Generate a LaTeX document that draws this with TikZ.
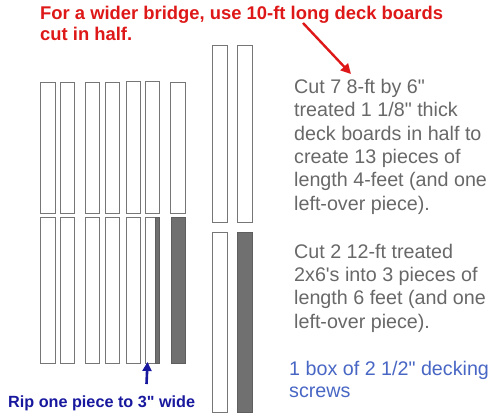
\documentclass[tikz,border=0pt]{standalone}
\usepackage{fontspec}
\setmainfont{Liberation Sans}[Ligatures=TeXOff]
\usetikzlibrary{arrows.meta}
\definecolor{titlered}{RGB}{222,24,24}
\definecolor{ripblue}{RGB}{24,24,158}
\definecolor{notegray}{RGB}{104,104,104}
\definecolor{screwblue}{RGB}{72,102,196}
\definecolor{boardline}{RGB}{118,118,118}
\definecolor{boardfill}{RGB}{112,112,112}
\tikzset{
  board/.style={draw=boardline, line width=0.9pt, fill=white},
  ripped/.style={draw=boardline!80!black, line width=0.9pt, fill=boardfill},
  note/.style={anchor=base west, inner sep=0pt, align=left, text=notegray,
    font=\fontsize{19.7}{23.3}\selectfont},
}
\begin{document}
\begin{tikzpicture}[x=1pt, y=-1pt]
		%%%%% START %%%%%
		\useasboundingbox (0, 0) rectangle (500, 418);
		
		% half deck boards, upper row
		\draw[board] (40, 82) rectangle (55, 213);
		\draw[board] (60, 82) rectangle (74, 213);
		\draw[board] (85, 82) rectangle (99, 213);
		\draw[board] (105, 82) rectangle (119, 213);
		\draw[board] (126, 81) rectangle (140, 213);
		\draw[board] (145, 81) rectangle (159, 213);
		\draw[board] (170, 82) rectangle (185, 213);
		
		% half deck boards, lower row
		\draw[board] (40, 217) rectangle (55, 363);
		\draw[board] (60, 217) rectangle (74, 363);
		\draw[board] (85, 217) rectangle (99, 363);
		\draw[board] (105, 217) rectangle (119, 363);
		\draw[board] (126, 217) rectangle (140, 363);
		\draw[board] (145, 217) rectangle (155, 363);
		\draw[ripped] (155, 217) rectangle (159, 363);
		\draw[ripped] (171, 217) rectangle (185, 363);
		
		% 2x6 pieces
		\draw[board] (212, 45) rectangle (227, 222);
		\draw[board] (237, 45) rectangle (252, 222);
		\draw[board] (212, 232) rectangle (227, 412);
		\draw[ripped] (237, 232) rectangle (252, 412);
		
		% texts (base = last line)
		\node[anchor=base west, inner sep=0pt, align=left, text=titlered,
		  font=\fontsize{18.4}{20.5}\selectfont\bfseries] (wider) at (40, 40)
		  {For a wider bridge, use 10-ft long deck boards\\cut in half.};
		
		\node[note] (cutdeck) at (294, 210) {Cut 7 8-ft by 6"\\treated 1 1/8" thick\\deck boards in half to\\create 13 pieces of\\length 4-feet (and one\\left-over piece).};
		\node[note] (cutjoist) at (294, 328) {Cut 2 12-ft treated\\2x6's into 3 pieces of\\length 6 feet (and one\\left-over piece).};
		\node[note, text=screwblue, font=\fontsize{19.7}{22}\selectfont] (screws) at (289, 397) {1 box of 2 1/2" decking\\screws};
		
		\node[anchor=base west, inner sep=0pt, text=ripblue,
		  font=\fontsize{16.2}{18}\selectfont\bfseries] (rip) at (8, 407) {Rip one piece to 3" wide};
		
		% arrows
		\coordinate (redtail) at (303, 23);
		\coordinate (redtip) at (351, 74);
		\draw[titlered, line width=2.4pt, -{Triangle[length=10pt, width=10pt]}] (redtail) -- (redtip);
		
		\coordinate (riptail) at (146.5, 384);
		\coordinate (riptip) at (147.5, 362);
		\draw[ripblue, line width=2.6pt, -{Triangle[length=9pt, width=9pt]}] (riptail) -- (riptip);
		
		%%%%% END %%%%%
	\end{tikzpicture}
\end{document}
